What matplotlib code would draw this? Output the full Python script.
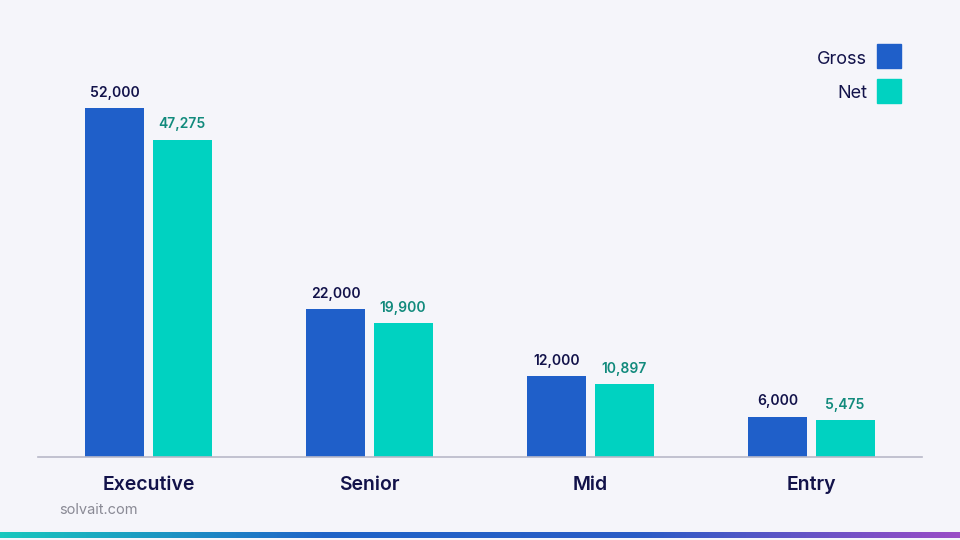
import matplotlib
matplotlib.use("Agg")
import matplotlib.pyplot as plt
import numpy as np
from matplotlib.colors import LinearSegmentedColormap
from matplotlib.patches import Rectangle

categories = ["Executive", "Senior", "Mid", "Entry"]
series_names = ["Gross", "Net"]
gross = [52000, 22000, 12000, 6000]
net = [47275, 19900, 10897, 5475]

BG = "#F5F5FA"
C_GROSS = "#1F5FC9"
C_NET = "#00D2C1"
NAVY = "#12124A"
TEAL_TXT = "#118A7C"

plt.rcParams['font.family'] = ['Inter', 'DejaVu Sans']

fig = plt.figure(figsize=(9.6, 5.4), dpi=100, facecolor=BG)
ax = fig.add_axes([38/960, 1-457/540, 884/960, 417/540], facecolor=BG)

x = np.arange(len(categories))
w = 0.267
off = 0.152
b1 = ax.bar(x - off, gross, w, color=C_GROSS)
b2 = ax.bar(x + off, net, w, color=C_NET)

for rect, v in zip(b1, gross):
    ax.annotate(f"{v:,}", (rect.get_x() + rect.get_width()/2, v), xytext=(0, 6),
                textcoords="offset points", ha="center", va="bottom",
                fontsize=10, fontweight="semibold", color=NAVY)
for rect, v in zip(b2, net):
    ax.annotate(f"{v:,}", (rect.get_x() + rect.get_width()/2, v), xytext=(0, 6),
                textcoords="offset points", ha="center", va="bottom",
                fontsize=10, fontweight="semibold", color=TEAL_TXT)

ax.set_xlim(-0.5, len(categories) - 0.5)
ax.set_ylim(0, 62140)
ax.set_xticks(x)
ax.set_xticklabels(categories, fontsize=14, fontweight="semibold", color=NAVY)
ax.tick_params(axis="x", length=0, pad=14)
ax.set_yticks([])
for s in ["top", "right", "left"]:
    ax.spines[s].set_visible(False)
ax.spines["bottom"].set_color("#B8B8C8")
ax.spines["bottom"].set_linewidth(1.2)

# legend
for i, (name, col) in enumerate(zip(series_names, [C_GROSS, C_NET])):
    ytop = 44 + i * 35
    fig.patches.append(Rectangle((877/960, 1 - (ytop + 24)/540), 24/960, 24/540,
                                 transform=fig.transFigure, color=col))
    fig.text(867/960, 1 - (ytop + 15)/540, name, ha="right", va="center",
             fontsize=13, color=NAVY)

fig.text(59/960, 1 - 510/540, "solvait.com", ha="left", va="center",
         fontsize=10.5, color="#8A8A95")

# gradient bar
gax = fig.add_axes([0, 1 - 538/540, 1, 6/540])
cmap = LinearSegmentedColormap.from_list("g", ["#19C8BE", "#1F64C8", "#2A5CC6", "#9A4CC6"])
gax.imshow(np.linspace(0, 1, 256)[None, :], aspect="auto", cmap=cmap, extent=[0, 1, 0, 1])
gax.axis("off")

fig.savefig("out.png", dpi=100, facecolor=BG)
